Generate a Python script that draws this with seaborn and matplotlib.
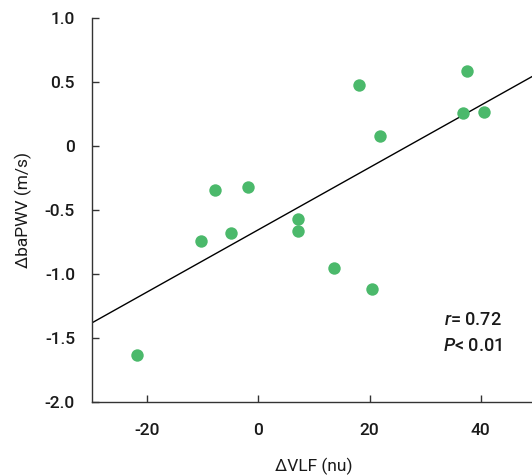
import numpy as np
import pandas as pd
import matplotlib
matplotlib.use("Agg")
import matplotlib.pyplot as plt
import seaborn as sns

# values
dvlf = [-21.8, -10.4, -7.9, -5.0, -1.9, 7.1, 7.1, 13.6, 18.0, 20.4, 21.9, 36.8, 37.5, 40.6]
dbapwv = [-1.636, -0.738, -0.341, -0.680, -0.323, -0.570, -0.664, -0.956,
          0.481, -1.115, 0.081, 0.260, 0.591, 0.263]
x_ticks = [-20, 0, 20, 40]
y_ticks = [-2.0, -1.5, -1.0, -0.5, 0, 0.5, 1.0]
y_tick_labels = ["-2.0", "-1.5", "-1.0", "-0.5", "0", "0.5", "1.0"]

df = pd.DataFrame({"dvlf": dvlf, "dbapwv": dbapwv})

sns.set_style("white")
plt.rcParams["font.family"] = ["Roboto", "DejaVu Sans"]
plt.rcParams["font.weight"] = "medium"
plt.rcParams["axes.unicode_minus"] = False
plt.rcParams["mathtext.fontset"] = "custom"
plt.rcParams["mathtext.it"] = "Roboto:italic"
plt.rcParams["mathtext.rm"] = "Roboto"

fig = plt.figure(figsize=(5.32, 4.75), dpi=100)
ax = fig.add_axes([0.1724, 0.1537, 0.836, 0.808])
ax.set_xlim(-30, 50)
ax.set_ylim(-2.0, 1.0)

sns.regplot(data=df, x="dvlf", y="dbapwv", ax=ax, ci=None, truncate=False,
            scatter_kws={"s": 80, "color": "#4bb96b", "alpha": 1, "linewidths": 0, "zorder": 3},
            line_kws={"color": "black", "lw": 1, "zorder": 2})

ax.set_xlim(-30, 50)
ax.set_ylim(-2.0, 1.0)
ax.set_xticks(x_ticks)
ax.set_xticklabels([str(t) for t in x_ticks])
ax.set_yticks(y_ticks)
ax.set_yticklabels(y_tick_labels)

for side in ["top", "right"]:
    ax.spines[side].set_visible(False)
for side in ["left", "bottom"]:
    ax.spines[side].set_color("#333333")
    ax.spines[side].set_linewidth(1)

ax.tick_params(bottom=True, left=True, direction="in", length=5, width=1,
               color="#333333", labelsize=12.5, labelcolor="#1a1a1a")
ax.tick_params(axis="y", pad=12)
ax.tick_params(axis="x", pad=15)

ax.set_xlabel("\u0394VLF (nu)", fontsize=12.5, color="#1a1a1a", labelpad=14)
ax.set_ylabel("\u0394baPWV (m/s)", fontsize=12.5, color="#1a1a1a", labelpad=9)

ax.text(0.923, 0.213, "$\\mathit{r}$= 0.72", transform=ax.transAxes, ha="right",
        va="center", fontsize=13, color="#1a1a1a")
ax.text(0.923, 0.147, "$\\mathit{P}$< 0.01", transform=ax.transAxes, ha="right",
        va="center", fontsize=13, color="#1a1a1a")

fig.savefig("out.png", dpi=100)
